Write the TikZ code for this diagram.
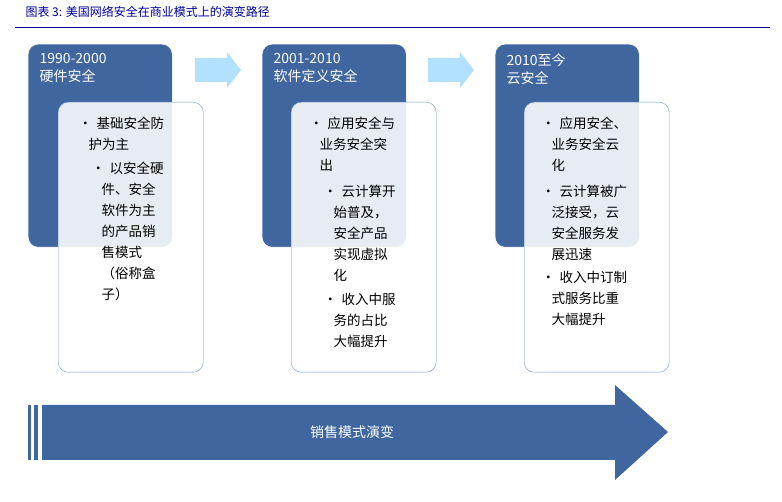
\documentclass[tikz,border=0pt]{standalone}
\usepackage{fontspec}
\newfontfamily\cjk{Noto Sans CJK SC}
\usetikzlibrary{positioning, arrows.meta, calc}

\begin{document}
\begin{tikzpicture}[x=1pt, y=-1pt]
    \tikzstyle{era} = [draw=white, fill=blue!60!cyan!50!black!75, rounded corners=10pt, minimum width=144pt, minimum height=203pt, anchor=north west]
    \tikzstyle{detail} = [draw=blue!55!cyan!60!black!55, fill=white, fill opacity=0.88, rounded corners=10pt, minimum width=145pt, minimum height=270pt, anchor=north west]
    \tikzstyle{eratext} = [text=white, font=\cjk\fontsize{14}{18}\selectfont, align=left, anchor=north west]
    \tikzstyle{stage arrow} = [fill=blue!40!cyan!30!white, draw=none]
    \colorlet{eraBlue}{blue!60!cyan!50!black!75}
    \useasboundingbox (0,0) rectangle (782,502);

    % Title
    \node[anchor=west, text=blue!60!black, font=\cjk\itshape\fontsize{12}{14}\selectfont] (title) at (22,12) {图表 3: 美国网络安全在商业模式上的演变路径};
    \draw[blue!60!black, line width=0.8pt] (15,27) -- (770,27);

    % Era boxes
    \node[era] (e1) at (28,44) {};
    \node[era] (e2) at (262,44) {};
    \node[era] (e3) at (495,44) {};
    \node[eratext] (t1) at ([xshift=8pt, yshift=-6pt]e1.north west) {1990-2000\\硬件安全};
    \node[eratext] (t2) at ([xshift=8pt, yshift=-6pt]e2.north west) {2001-2010\\软件定义安全};
    \node[eratext] (t3) at ([xshift=8pt, yshift=-6pt]e3.north west) {2010至今\\云安全};

    % Step arrows
    \foreach \x in {195,428} {
        \fill[stage arrow] (\x,58) -- (\x+32,58) -- (\x+32,52) -- (\x+46,70) -- (\x+32,88) -- (\x+32,82) -- (\x,82) -- cycle;
    }

    % Detail boxes
    \node[detail] (d1) at (58,102) {};
    \node[detail] (d2) at (291,102) {};
    \node[detail] (d3) at (524,102) {};

    \begin{scope}[every node/.style={anchor=north west, font=\cjk\fontsize{13.5}{21}\selectfont, text width=96pt, align=left}]
        \node (l1) at (75,113) {\textbullet\ 基础安全防\\\hspace*{10pt}护为主};
        \node (l1b) at (88,158) {\textbullet\ 以安全硬\\\hspace*{10pt}件、安全\\\hspace*{10pt}软件为主\\\hspace*{10pt}的产品销\\\hspace*{10pt}售模式\\\hspace*{10pt}（俗称盒\\\hspace*{10pt}子）};
        \node (l2) at (306,113) {\textbullet\ 应用安全与\\\hspace*{10pt}业务安全突\\\hspace*{10pt}出};
        \node (l2b) at (320,182) {\textbullet\ 云计算开\\\hspace*{10pt}始普及，\\\hspace*{10pt}安全产品\\\hspace*{10pt}实现虚拟\\\hspace*{10pt}化};
        \node (l2c) at (320,290) {\textbullet\ 收入中服\\\hspace*{10pt}务的占比\\\hspace*{10pt}大幅提升};
        \node (l3) at (538,113) {\textbullet\ 应用安全、\\\hspace*{10pt}业务安全云\\\hspace*{10pt}化};
        \node (l3b) at (538,182) {\textbullet\ 云计算被广\\\hspace*{10pt}泛接受，云\\\hspace*{10pt}安全服务发\\\hspace*{10pt}展迅速};
        \node (l3c) at (538,268) {\textbullet\ 收入中订制\\\hspace*{10pt}式服务比重\\\hspace*{10pt}大幅提升};
    \end{scope}

    % Bottom arrow
    \fill[eraBlue] (28,405) rectangle (31,460);
    \fill[eraBlue] (34,405) rectangle (38,460);
    \fill[eraBlue] (42,405) -- (615,405) -- (615,385) -- (668,432) -- (615,480) -- (615,460) -- (42,460) -- cycle;
    \node[text=white, font=\cjk\fontsize{14}{16}\selectfont] (trend) at (352,432) {销售模式演变};
\end{tikzpicture}
\end{document}
